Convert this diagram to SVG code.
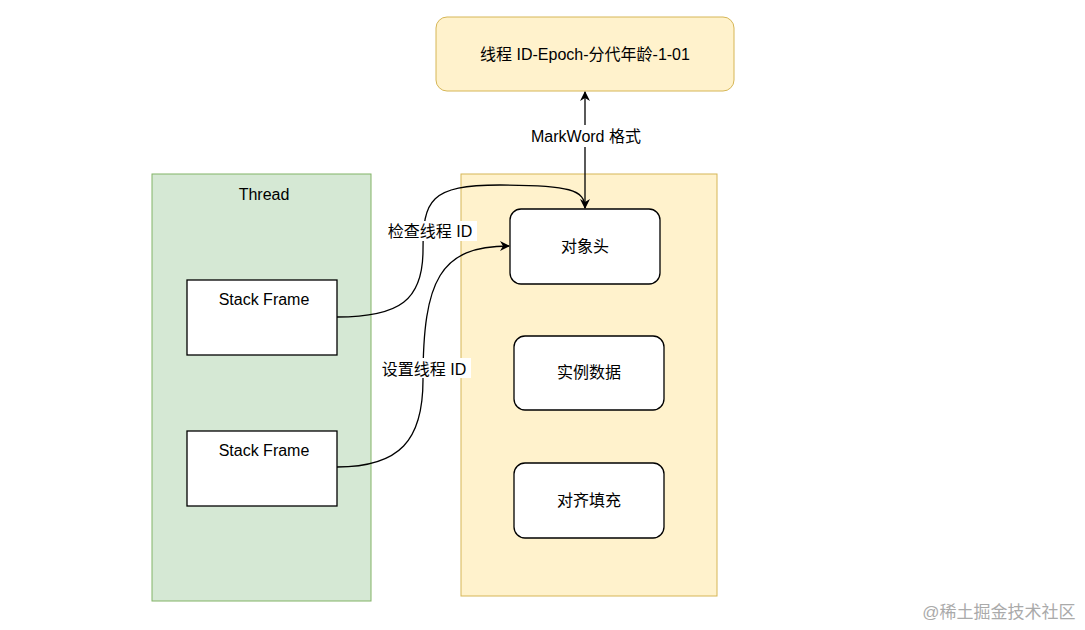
<svg xmlns="http://www.w3.org/2000/svg" width="1085" height="630" viewBox="0 0 1085 630">
<defs>
<style>
text{font-family:"Liberation Sans","Noto Sans CJK SC",sans-serif;font-size:16px;fill:#000;text-anchor:middle}
.box{fill:#fff;stroke:#000;stroke-width:1.3}
.c{fill:none;stroke:#000;stroke-width:1.3}
.lbl{fill:#fff}
</style>
<marker id="a" viewBox="0 0 10 10" refX="9" refY="5" markerWidth="10" markerHeight="10" markerUnits="userSpaceOnUse" orient="auto"><path d="M0,0 L10,5 L0,10 L3,5 Z" fill="#000"/></marker>
</defs>
<rect width="1085" height="630" fill="#fff"/>
<g id="thread"><rect x="152" y="174" width="219" height="427" fill="#d5e8d4" stroke="#82b366"/><text x="264" y="200" font-size="18">Thread</text></g>
<g id="object"><rect x="461" y="174" width="256" height="422" fill="#fff2cc" stroke="#d6b656"/></g>
<g id="markword"><rect x="436" y="17" width="298" height="74" rx="11" fill="#fff2cc" stroke="#d6b656"/><text x="585" y="60">线程 ID-Epoch-分代年龄-1-01</text></g>
<g id="sf1"><rect class="box" x="187" y="280" width="150" height="75"/><text x="264" y="305">Stack Frame</text></g>
<g id="sf2"><rect class="box" x="187" y="431" width="150" height="75"/><text x="264" y="456">Stack Frame</text></g>
<g id="header"><rect class="box" x="510" y="209" width="150" height="75" rx="11"/><text x="585" y="252">对象头</text></g>
<g id="data"><rect class="box" x="514" y="336" width="150" height="74" rx="11"/><text x="589" y="378">实例数据</text></g>
<g id="pad"><rect class="box" x="514" y="463" width="150" height="75" rx="11"/><text x="589" y="506">对齐填充</text></g>
<g id="connectors">
<path class="c" d="M585,208 L585,92" marker-end="url(#a)"/>
<rect class="lbl" x="524" y="125" width="124" height="22"/>
<text x="586" y="142">MarkWord 格式</text>
<path class="c" d="M337,317 C400,317 423,300 423,250 C423,200 430,185 500,185 C570,185 585,190 585,208" marker-end="url(#a)"/>
<path class="c" d="M337,467 C400,467 423,440 423,380 C423,280 440,246 509,246" marker-end="url(#a)"/>
<rect class="lbl" x="383" y="221" width="94" height="20"/>
<text x="430" y="237">检查线程 ID</text>
<rect class="lbl" x="377" y="358" width="94" height="20"/>
<text x="424" y="375">设置线程 ID</text>
</g>
<text x="999" y="618" style="fill:#aaa;font-size:17px">@稀土掘金技术社区</text>
</svg>
